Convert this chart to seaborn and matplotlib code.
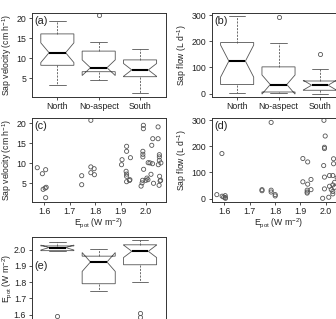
import matplotlib
matplotlib.use("Agg")
import matplotlib.pyplot as plt
import numpy as np
import pandas as pd
import seaborn as sns

ASPECTS = ["North", "No-aspect", "South"]

# (a) sap velocity by aspect (cm h-1)
vel_north = [3.4, 4.6, 5.5, 6.3, 7.0, 7.7, 8.25, 8.7, 9.3, 9.9, 10.4, 10.9, 11.4,
             12.0, 12.8, 13.6, 14.4, 15.3, 16.1, 16.6, 17.2, 17.8, 18.3, 18.8, 19.3]
vel_noaspect = [4.6, 5.2, 5.7, 6.2, 6.65, 6.9, 7.1, 7.4, 7.65, 8.4, 9.3, 10.6, 11.8,
                12.5, 13.3, 14.15, 20.8]
vel_south = [1.3, 3.0, 4.1, 4.9, 5.4, 5.8, 6.2, 6.7, 7.1, 7.5, 7.9, 8.6, 9.6,
             10.2, 10.9, 11.6, 12.25]

# (b) sap flow by aspect (L d-1)
flow_north = [3, 10, 18, 26, 34.5, 55, 80, 102, 124, 140, 158, 176, 195, 220, 248, 275, 297]
flow_noaspect = [2, 3, 4, 5, 6, 12, 20, 28, 34.5, 48, 65, 85, 102, 125, 160, 191.6, 291]
flow_south = [0, 5, 12.6, 22, 32, 40, 48, 93, 150.6]

# (e) potential radiation by aspect (W m-2)
epot_north = [1.589, 1.99, 1.994, 2.005, 2.013, 2.018, 2.023, 2.035, 2.047]
epot_noaspect = [1.748, 1.752, 1.758, 1.765, 1.775, 1.79, 1.80, 1.83, 1.87, 1.90, 1.924,
                 1.93, 1.935, 1.94, 1.95, 1.96, 1.97, 1.978, 1.985, 1.995, 2.004]
epot_south = [1.585, 1.61, 1.80, 1.84, 1.87, 1.89, 1.907, 1.92, 1.935, 1.95, 1.962, 1.975,
              1.99, 1.995, 2.0, 2.005, 2.012, 2.02, 2.03, 2.035, 2.04, 2.045, 2.05, 2.054, 2.057]

# (c) sap velocity vs Epot
c_epot = [1.572, 1.592, 1.605, 1.595, 1.603, 1.607, 1.605, 1.747, 1.747, 1.783, 1.783, 1.796,
          1.783, 1.797, 1.906, 1.904, 1.924, 1.924, 1.939, 1.922, 1.924, 1.924, 1.924, 1.937,
          1.935, 1.990, 1.990, 2.048, 2.027, 2.048, 2.023, 1.988, 1.988, 1.988, 2.053, 2.053,
          2.053, 2.049, 2.059, 2.009, 2.016, 2.026, 1.991, 2.020, 2.004, 2.008, 2.000, 1.987,
          1.985, 1.981, 2.030, 2.054, 2.056, 2.058, 2.052]
c_vel = [8.9, 7.4, 8.4, 3.5, 3.8, 4.0, 1.4, 6.9, 4.65, 20.75, 9.1, 8.65,
         7.65, 7.15, 10.9, 9.65, 14.25, 13.0, 11.4, 8.0, 7.3, 6.75, 5.4, 5.9,
         5.7, 19.5, 18.65, 19.1, 16.15, 16.15, 14.5, 13.0, 12.25, 11.6, 12.15, 11.6,
         10.75, 9.65, 10.1, 10.15, 10.1, 9.9, 8.5, 7.25, 6.3, 5.9, 5.75, 5.75,
         5.1, 4.3, 5.0, 6.75, 5.6, 5.75, 4.5]

# (d) sap flow vs Epot
d_epot = [1.571, 1.592, 1.604, 1.604, 1.605, 1.591, 1.598, 1.749, 1.749, 1.785, 1.785, 1.785,
          1.801, 1.801, 1.910, 1.929, 1.910, 1.929, 1.942, 1.927, 1.927, 1.927, 1.942, 1.993,
          1.998, 1.995, 1.995, 1.992, 2.031, 2.031, 1.995, 2.015, 2.028, 1.995, 2.015, 2.028,
          2.022, 2.028, 2.012, 1.988, 2.028, 2.035, 2.035, 2.045, 2.05]
d_flow = [15, 9, 11, 4, 1, 172, 6, 34, 30, 291, 32, 25,
          15, 10, 153, 140, 64, 55, 73, 32, 25, 21, 34, 299,
          239, 196, 191, 126, 152, 133, 82, 88, 88, 37, 47, 52,
          34, 27, 5, 1, 18, 62, 43, 80, 110]

GRAY = "#555555"
FRAME = "#333333"
TEXT = "#222222"

sns.set_style("ticks")
plt.rcParams["font.family"] = ["Liberation Sans", "DejaVu Sans"]
plt.rcParams["mathtext.fontset"] = "custom"
plt.rcParams["mathtext.rm"] = "Liberation Sans"

W, H = 336, 319
fig = plt.figure(figsize=(W / 100, H / 100), dpi=100)


def add_axes(left, top, width=134, height=84):
    return fig.add_axes([left / W, 1 - (top + height) / H, width / W, height / H])


def style_axes(ax, letter, letter_y=0.96):
    for sp in ax.spines.values():
        sp.set_visible(True)
        sp.set_color(FRAME)
        sp.set_linewidth(0.7)
    ax.tick_params(direction="out", length=2.5, width=0.6, color=FRAME,
                   labelsize=6.3, pad=1.5, labelcolor=TEXT)
    ax.text(0.02, letter_y, letter, transform=ax.transAxes, ha="left", va="top",
            fontsize=7.8, color=TEXT)


def draw_box(ax, groups, ylim, yticks, ylabel, letter, letter_y=0.96):
    df = pd.DataFrame({
        "aspect": np.repeat(ASPECTS, [len(g) for g in groups]),
        "value": np.concatenate(groups),
    })
    sns.boxplot(data=df, x="aspect", y="value", order=ASPECTS, ax=ax, notch=True,
                width=0.8, color="white", linecolor=GRAY, linewidth=0.6, whis=1.5,
                capwidths=0.4,
                medianprops=dict(color="black", linewidth=1.5),
                whiskerprops=dict(color=GRAY, linewidth=0.6, linestyle=(0, (2.5, 1.5))),
                capprops=dict(color=GRAY, linewidth=0.6, linestyle="-"),
                flierprops=dict(marker="o", markerfacecolor="none", markeredgecolor=GRAY,
                                markersize=3, markeredgewidth=0.6))
    ax.set_xlim(-0.62, 2.62)
    ax.set_ylim(*ylim)
    ax.set_yticks(yticks)
    ax.set_xlabel("")
    ax.set_ylabel(ylabel, fontsize=6.2, color=TEXT)
    style_axes(ax, letter, letter_y)


def draw_scatter(ax, x, y, ylim, yticks, ylabel, letter):
    sns.scatterplot(x=x, y=y, ax=ax, marker="o", s=9, facecolor="none",
                    edgecolor=GRAY, linewidth=0.6)
    ax.set_xlim(1.55, 2.078)
    ax.set_xticks([1.6, 1.7, 1.8, 1.9, 2.0])
    ax.set_ylim(*ylim)
    ax.set_yticks(yticks)
    ax.set_xlabel(r"E$_{\mathregular{pot}}$ (W m$^{\mathregular{-2}}$)", fontsize=6.2, color=TEXT)
    ax.set_ylabel(ylabel, fontsize=6.2, color=TEXT)
    ax.xaxis.set_label_coords(0.5, -0.17)
    style_axes(ax, letter)


vel_label = r"Sap velocity (cm h$^{\mathregular{-1}}$)"
flow_label = r"Sap flow (L d$^{\mathregular{-1}}$)"
epot_label = r"E$_{\mathregular{pot}}$ (W m$^{\mathregular{-2}}$)"

ax_a = add_axes(31.7, 12.7)
draw_box(ax_a, [vel_north, vel_noaspect, vel_south], (0.4, 21.4), [5, 10, 15, 20], vel_label, "(a)")
ax_a.yaxis.set_label_coords(-0.135, 0.5)

ax_b = add_axes(211.5, 12.7)
draw_box(ax_b, [flow_north, flow_noaspect, flow_south], (-12, 309), [0, 100, 200, 300], flow_label, "(b)")
ax_b.yaxis.set_label_coords(-0.17, 0.5)

ax_c = add_axes(31.7, 117.7)
draw_scatter(ax_c, c_epot, c_vel, (0.4, 21.4), [5, 10, 15, 20], vel_label, "(c)")
ax_c.yaxis.set_label_coords(-0.135, 0.5)

ax_d = add_axes(211.5, 117.7)
draw_scatter(ax_d, d_epot, d_flow, (-12, 309), [0, 100, 200, 300], flow_label, "(d)")
ax_d.yaxis.set_label_coords(-0.17, 0.5)

# bottom panel runs past the lower edge of the picture; its category labels are not shown
ax_e = add_axes(31.7, 236.7)
draw_box(ax_e, [epot_north, epot_noaspect, epot_south], (1.562, 2.08),
         [1.6, 1.7, 1.8, 1.9, 2.0], epot_label, "(e)", letter_y=0.71)
ax_e.yaxis.set_label_coords(-0.135, 0.5)
ax_e.tick_params(axis="x", labelbottom=False)

fig.savefig("out.png", dpi=100)
